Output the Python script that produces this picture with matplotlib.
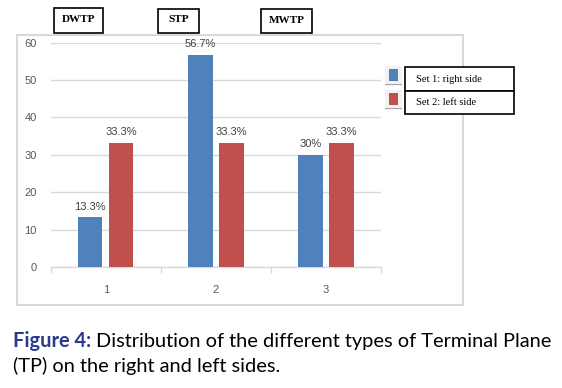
import matplotlib
matplotlib.use("Agg")
import matplotlib.pyplot as plt
from matplotlib.patches import Rectangle
import numpy as np

categories = ["1", "2", "3"]
set1_right = [13.3, 56.7, 30.0]
set2_left = [33.3, 33.3, 33.3]
set1_labels = ["13.3%", "56.7%", "30%"]
set2_labels = ["33.3%", "33.3%", "33.3%"]
series_names = ["Set 1: right side", "Set 2: left side"]
group_names = ["DWTP", "STP", "MWTP"]
yticks = [0, 10, 20, 30, 40, 50, 60]

BLUE = "#4F81BD"
RED = "#C0504D"
W, H = 562, 388

fig = plt.figure(figsize=(W / 100, H / 100), dpi=100)
fig.patch.set_facecolor("white")


def fx(px):
    return px / W


def fy(py):
    return 1 - py / H


# outer chart border
fig.patches.append(Rectangle((fx(17), fy(305)), fx(463) - fx(17), fy(35) - fy(305),
                             transform=fig.transFigure, fill=False,
                             edgecolor="#d9d9d9", linewidth=1.5, zorder=0))

ax = fig.add_axes([fx(50.7), fy(267), (381 - 50.7) / W, (267 - 42.7) / H])
x = np.arange(1, len(categories) + 1)
bw = 0.222
off = 0.141
b1 = ax.bar(x - off, set1_right, bw, color=BLUE, zorder=3)
b2 = ax.bar(x + off, set2_left, bw, color=RED, zorder=3)

for rects, labs in ((b1, set1_labels), (b2, set2_labels)):
    for r, lab in zip(rects, labs):
        ax.annotate(lab, (r.get_x() + r.get_width() / 2, r.get_height()),
                    xytext=(0, 4), textcoords="offset points",
                    ha="center", va="bottom", fontsize=8,
                    family="Liberation Sans", color="#404040")

ax.set_xlim(0.5, 3.5)
ax.set_ylim(0, 60)
ax.set_yticks(yticks)
ax.set_yticklabels([str(t) for t in yticks], fontsize=8, family="Liberation Sans", color="#595959")
ax.set_xticks(x)
ax.set_xticklabels(categories, fontsize=8, family="Liberation Sans", color="#595959")
ax.set_xticks([0.5, 1.5, 2.5, 3.5], minor=True)
ax.tick_params(axis="x", which="major", length=0, pad=13)
ax.tick_params(axis="x", which="minor", length=4, color="#d9d9d9", width=1)
ax.tick_params(axis="y", length=0, pad=10)
ax.grid(axis="y", color="#d9d9d9", linewidth=1, zorder=0)
for s in ["top", "right", "left"]:
    ax.spines[s].set_visible(False)
ax.spines["bottom"].set_color("#d9d9d9")
ax.spines["bottom"].set_linewidth(1)

# group name boxes
boxes = [(54.3, 8.3, 102.7, 32.7), (158.3, 9.3, 199.3, 32.7), (260.7, 9.3, 312, 33.3)]
for name, (x0, y0, x1, y1) in zip(group_names, boxes):
    fig.patches.append(Rectangle((fx(x0), fy(y1)), fx(x1) - fx(x0), fy(y0) - fy(y1),
                                 transform=fig.transFigure, facecolor="white",
                                 edgecolor="black", linewidth=1.2, zorder=5))
    fig.text(fx((x0 + x1) / 2), fy((y0 + y1) / 2 - 1), name, ha="center", va="center",
             fontsize=8, family="Liberation Serif", fontweight="bold", color="black", zorder=6)

# legend
leg = [(BLUE, 67, 91, 69, 81), (RED, 91, 114, 93, 105)]
for name, (col, y0, y1, sy0, sy1) in zip(series_names, leg):
    fig.patches.append(Rectangle((fx(405), fy(y1)), fx(514) - fx(405), fy(y0) - fy(y1),
                                 transform=fig.transFigure, facecolor="white",
                                 edgecolor="black", linewidth=1.2, zorder=5))
    fig.text(fx(416), fy((y0 + y1) / 2), name, ha="left", va="center",
             fontsize=7.5, family="Liberation Serif", color="black", zorder=6)
    fig.patches.append(Rectangle((fx(385), fy(sy1 + 5)), fx(402) - fx(385), fy(sy0 - 3) - fy(sy1 + 5),
                                 transform=fig.transFigure, facecolor="#f2f2f2",
                                 edgecolor="none", zorder=4))
    fig.patches.append(Rectangle((fx(389), fy(sy1)), fx(398) - fx(389), fy(sy0) - fy(sy1),
                                 transform=fig.transFigure, facecolor=col,
                                 edgecolor="none", zorder=5))
    fig.patches.append(Rectangle((fx(385), fy(sy1 + 4)), fx(402) - fx(385), 1.5 / H,
                                 transform=fig.transFigure, facecolor="#a6a6a6",
                                 edgecolor="none", zorder=5))

# caption
cap_font = "Lato"
cap_size = 14.4
t1 = fig.text(fx(13), fy(347), "Figure 4:", ha="left", va="baseline", fontsize=cap_size,
              family=cap_font, fontweight="bold", color="#2b3a8c")
fig.canvas.draw()
bb = t1.get_window_extent()
fig.text(bb.x1 / W + fx(5), fy(347), "Distribution of the different types of Terminal Plane",
         ha="left", va="baseline", fontsize=cap_size, family=cap_font, color="black")
fig.text(fx(13), fy(372), "(TP) on the right and left sides.", ha="left", va="baseline",
         fontsize=cap_size, family=cap_font, color="black")

fig.savefig("out.png", dpi=100, facecolor="white")
